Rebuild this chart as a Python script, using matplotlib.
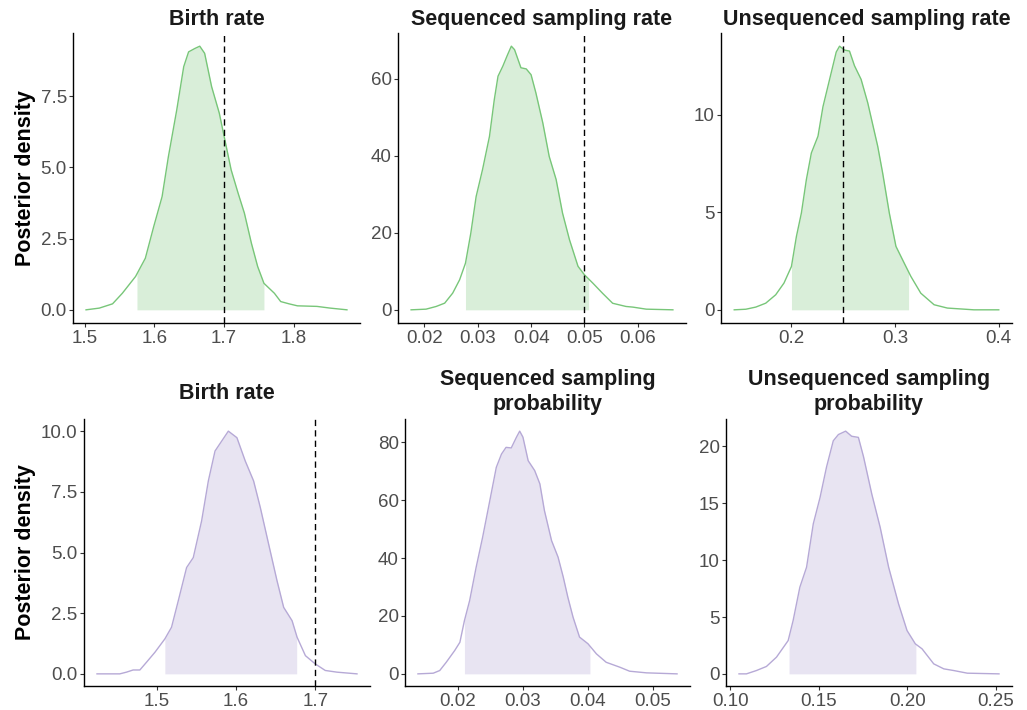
import numpy as np
import matplotlib
matplotlib.use("Agg")
import matplotlib.pyplot as plt

plt.rcParams["font.family"] = ["Liberation Sans", "DejaVu Sans"]

# posterior density curves (x, density)
birth_x = [1.502, 1.521, 1.540, 1.554, 1.573, 1.587, 1.599, 1.611, 1.620, 1.632, 1.642, 1.649, 1.658, 1.665,
           1.672, 1.682, 1.693, 1.701, 1.710, 1.720, 1.729, 1.739, 1.748, 1.757, 1.772, 1.781, 1.793, 1.805,
           1.833, 1.852, 1.876]
birth_y = [0.0, 0.06, 0.21, 0.58, 1.17, 1.81, 2.92, 3.97, 5.37, 7.01, 8.53, 9.05, 9.17, 9.25,
           9.0, 7.83, 6.9, 5.96, 4.91, 4.09, 3.39, 2.34, 1.52, 0.93, 0.58, 0.29, 0.21, 0.14,
           0.12, 0.06, 0.0]

seqrate_x = [0.0175, 0.0203, 0.0222, 0.0238, 0.0253, 0.0266, 0.0277, 0.0287, 0.0297, 0.0309, 0.0322, 0.0331,
             0.0338, 0.0347, 0.0356, 0.0363, 0.0369, 0.0381, 0.0391, 0.0400, 0.0409, 0.0422, 0.0434, 0.0447,
             0.0459, 0.0472, 0.0488, 0.0500, 0.0516, 0.0534, 0.0553, 0.0578, 0.0591, 0.0616, 0.0666]
seqrate_y = [0.0, 0.17, 0.87, 1.73, 4.33, 7.79, 12.1, 19.9, 29.4, 36.4, 45.0, 54.5,
             60.6, 63.2, 66.2, 68.4, 67.5, 62.8, 62.5, 61.0, 56.3, 48.5, 39.8, 33.8,
             25.1, 18.2, 11.3, 9.1, 6.9, 4.3, 1.7, 0.87, 0.7, 0.17, 0.0]

unseqrate_x = [0.1448, 0.156, 0.1656, 0.1752, 0.1848, 0.1928, 0.2, 0.2048, 0.2096, 0.2144, 0.2192, 0.2256,
               0.2304, 0.2368, 0.2432, 0.2464, 0.2512, 0.256, 0.2608, 0.2672, 0.2736, 0.2832, 0.288, 0.2944,
               0.3008, 0.3088, 0.3152, 0.3248, 0.3376, 0.3504, 0.376, 0.4]
unseqrate_y = [0.0, 0.03, 0.14, 0.34, 0.77, 1.37, 2.22, 3.76, 4.96, 6.67, 8.03, 8.89,
               10.4, 11.8, 13.2, 13.5, 13.3, 13.25, 12.5, 11.8, 10.6, 8.38, 7.0, 4.96,
               3.25, 2.39, 1.71, 0.85, 0.26, 0.09, 0.0, 0.0]

birth2_x = [1.425, 1.4537, 1.4621, 1.4705, 1.479, 1.4874, 1.498, 1.5105, 1.5189, 1.5274, 1.5379, 1.5463,
            1.5568, 1.5653, 1.5737, 1.5821, 1.5905, 1.6013, 1.6118, 1.6223, 1.6308, 1.6413, 1.6518, 1.6602,
            1.6708, 1.6771, 1.6876, 1.7, 1.7126, 1.7274, 1.7526]
birth2_y = [0.0, 0.0, 0.07, 0.16, 0.16, 0.48, 0.89, 1.44, 1.92, 3.01, 4.38, 4.79,
            6.3, 7.95, 9.18, 9.59, 10.0, 9.73, 8.77, 7.95, 6.85, 5.34, 3.84, 2.74,
            2.19, 1.51, 0.75, 0.41, 0.14, 0.07, 0.0]

seqprob_x = [0.01385, 0.0162, 0.0172, 0.0182, 0.0195, 0.0203, 0.0210, 0.0218, 0.0228, 0.0238, 0.0249, 0.0259,
             0.0267, 0.0274, 0.0282, 0.0290, 0.0295, 0.0300, 0.0308, 0.0318, 0.0326, 0.0333, 0.0344, 0.0354,
             0.0362, 0.0369, 0.0377, 0.0387, 0.0400, 0.0413, 0.0428, 0.0449, 0.0464, 0.0490, 0.0537]
seqprob_y = [0.0, 0.23, 1.15, 4.0, 8.05, 10.9, 18.4, 25.3, 36.8, 47.2, 59.8, 71.3,
             75.9, 78.2, 78.0, 81.7, 83.8, 81.7, 73.6, 70.2, 65.6, 56.4, 46.0, 40.3,
             33.4, 26.5, 19.6, 12.7, 10.4, 6.9, 4.0, 2.3, 0.92, 0.35, 0.0]

unseqprob_x = [0.1049, 0.1091, 0.1147, 0.1204, 0.1261, 0.1327, 0.1355, 0.1393, 0.1431, 0.1469, 0.1507, 0.1544,
               0.1582, 0.1611, 0.1652, 0.1686, 0.1724, 0.1753, 0.1800, 0.1847, 0.1895, 0.1951, 0.1999, 0.2046,
               0.2084, 0.2150, 0.2207, 0.2264, 0.2340, 0.2519]
unseqprob_y = [0.0, 0.0, 0.29, 0.65, 1.47, 2.93, 4.69, 7.62, 9.38, 13.2, 15.5, 18.2,
               20.5, 21.05, 21.35, 20.9, 20.8, 19.1, 15.8, 12.9, 9.38, 6.16, 3.81, 2.64,
               2.2, 0.88, 0.44, 0.29, 0.06, 0.0]

titles = ["Birth rate", "Sequenced sampling rate", "Unsequenced sampling rate",
          "Birth rate", "Sequenced sampling\nprobability", "Unsequenced sampling\nprobability"]
curves_x = [birth_x, seqrate_x, unseqrate_x, birth2_x, seqprob_x, unseqprob_x]
curves_y = [birth_y, seqrate_y, unseqrate_y, birth2_y, seqprob_y, unseqprob_y]
hpd_low = [1.575, 0.0277, 0.200, 1.5105, 0.0210, 0.1332]
hpd_high = [1.757, 0.0508, 0.313, 1.6766, 0.0403, 0.2049]
true_vals = [1.70, 0.05, 0.25, 1.70, None, None]
x_ticks = [[1.5, 1.6, 1.7, 1.8], [0.02, 0.03, 0.04, 0.05, 0.06], [0.2, 0.3, 0.4],
           [1.5, 1.6, 1.7], [0.02, 0.03, 0.04, 0.05], [0.10, 0.15, 0.20, 0.25]]
x_fmt = ["{:.1f}", "{:.2f}", "{:.1f}", "{:.1f}", "{:.2f}", "{:.2f}"]
y_ticks = [[0, 2.5, 5, 7.5], [0, 20, 40, 60], [0, 5, 10],
           [0, 2.5, 5, 7.5, 10], [0, 20, 40, 60, 80], [0, 5, 10, 15, 20]]
y_fmt = ["{:.1f}", "{:.0f}", "{:.0f}", "{:.1f}", "{:.0f}", "{:.0f}"]

GREEN_LINE, GREEN_FILL = "#78c679", "#d9eed9"
PURPLE_LINE, PURPLE_FILL = "#b6a9d6", "#e8e4f2"

W, H = 1027, 710
# axes boxes in pixels: left, top, right, bottom
boxes = [(73, 33, 360, 323), (398, 33, 686, 323), (721, 33, 1012, 323),
         (84, 419, 370, 686), (405, 419, 690, 686), (726, 419, 1012, 686)]
title_pads = [5.5, 5.5, 5.5, 14.5, 6.5, 6.5]

fig = plt.figure(figsize=(W / 100, H / 100), dpi=100)

for i in range(6):
    l, t, r, b = boxes[i]
    ax = fig.add_axes([l / W, 1 - b / H, (r - l) / W, (b - t) / H])
    x = np.array(curves_x[i])
    y = np.array(curves_y[i])
    line_c, fill_c = (GREEN_LINE, GREEN_FILL) if i < 3 else (PURPLE_LINE, PURPLE_FILL)

    # shaded 95% HPD interval
    xs = np.concatenate([[hpd_low[i]], x[(x > hpd_low[i]) & (x < hpd_high[i])], [hpd_high[i]]])
    ys = np.interp(xs, x, y)
    ax.fill_between(xs, 0, ys, color=fill_c, lw=0, zorder=1)
    ax.plot(x, y, color=line_c, lw=1.0, zorder=2)

    xr = x.max() - x.min()
    ax.set_xlim(x.min() - 0.05 * xr, x.max() + 0.05 * xr)
    ax.set_ylim(-0.05 * y.max(), 1.05 * y.max())

    if true_vals[i] is not None:
        ax.axvline(true_vals[i], color="black", lw=1.0, ls=(0, (4.5, 3)), zorder=3)

    ax.set_xticks(x_ticks[i])
    ax.set_xticklabels([x_fmt[i].format(v) for v in x_ticks[i]])
    ax.set_yticks(y_ticks[i])
    ax.set_yticklabels([y_fmt[i].format(v) for v in y_ticks[i]])
    ax.tick_params(axis="both", labelsize=13.5, labelcolor="#4d4d4d", color="#333333",
                   length=3, width=0.8)
    ax.tick_params(axis="x", pad=2.0)
    ax.tick_params(axis="y", pad=1.5)
    for side in ["top", "right"]:
        ax.spines[side].set_visible(False)
    for side in ["left", "bottom"]:
        ax.spines[side].set_linewidth(1.0)
        ax.spines[side].set_color("black")
    ax.set_title(titles[i], fontsize=15.5, fontweight="bold", color="#1a1a1a",
                 pad=title_pads[i], linespacing=1.25)

fig.text(26 / W, 1 - 178 / H, "Posterior density", rotation=90, ha="center", va="center",
         fontsize=15.5, fontweight="bold")
fig.text(26 / W, 1 - 552 / H, "Posterior density", rotation=90, ha="center", va="center",
         fontsize=15.5, fontweight="bold")

fig.savefig("out.png", dpi=100)
